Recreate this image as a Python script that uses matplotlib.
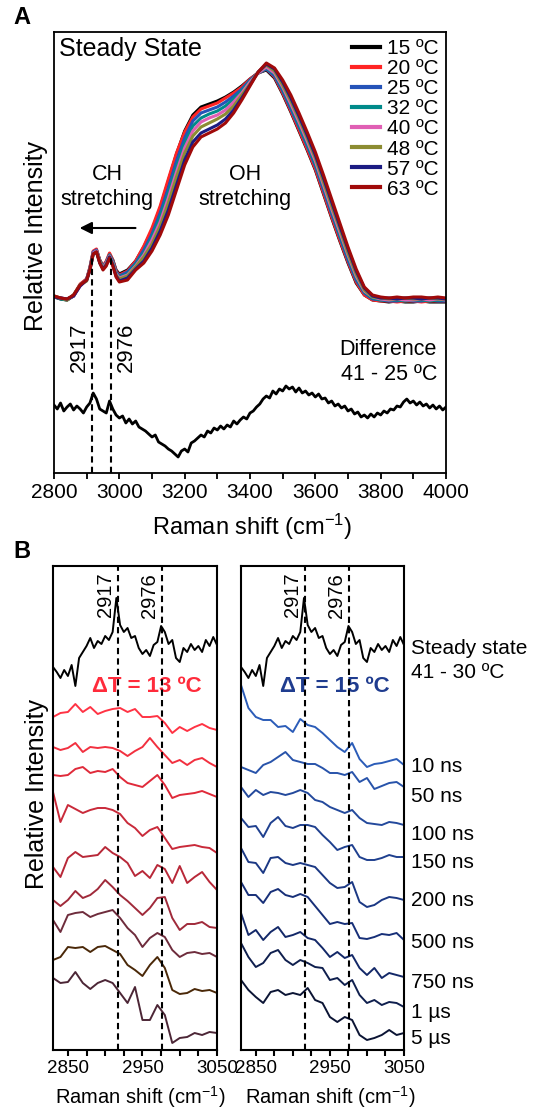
import numpy as np
import matplotlib
matplotlib.use("Agg")
import matplotlib.pyplot as plt
from matplotlib.transforms import blended_transform_factory

plt.rcParams['font.family'] = ['Liberation Sans', 'DejaVu Sans']
plt.rcParams['mathtext.fontset'] = 'custom'
plt.rcParams['mathtext.rm'] = 'Liberation Sans'
plt.rcParams['mathtext.default'] = 'regular'

# ---------------- panel A: steady state spectra ----------------
shift_a = np.concatenate([[2800, 2820, 2840, 2860, 2880, 2900, 2910, 2920, 2930, 2940,
                           2950, 2960, 2970, 2980, 2990, 3000],
                          np.arange(3025, 4001, 25)])

temps = ["15 ºC", "20 ºC", "25 ºC", "32 ºC", "40 ºC", "48 ºC", "57 ºC", "63 ºC"]
temp_colors = ["#000000", "#ff2424", "#2553b8", "#008a8a", "#e05fb4", "#8c8c32", "#1c1c82", "#a00a0a"]

int_15 = [176, 174, 173, 177, 188, 194, 205, 221, 223, 213, 207, 211, 219, 213, 203, 199,
          203, 212, 226, 243, 265, 292, 319, 342, 358, 366, 369, 372, 376, 381, 387, 394, 400, 403, 395, 379,
          361, 342, 323, 303, 279, 255, 232, 210, 190, 178, 173, 172, 171, 172, 171, 171, 172, 171, 171, 171]
int_20 = [177, 175, 173, 178, 189, 194, 206, 222, 224, 213, 207, 212, 220, 213, 202, 198,
          202, 212, 227, 245, 267, 294, 320, 341, 356, 364, 367, 370, 375, 380, 386, 394, 400, 404, 396, 380,
          362, 343, 324, 304, 280, 256, 233, 211, 191, 178, 173, 172, 172, 171, 172, 172, 171, 172, 172, 172]
int_25 = [176, 175, 174, 177, 188, 193, 205, 221, 223, 212, 206, 211, 218, 212, 201, 197,
          201, 210, 223, 239, 260, 285, 312, 335, 352, 360, 363, 366, 371, 377, 384, 393, 400, 404, 397, 382,
          364, 346, 327, 307, 283, 259, 236, 213, 193, 180, 174, 173, 172, 172, 173, 172, 172, 173, 172, 172]
int_32 = [177, 174, 173, 178, 188, 193, 204, 220, 222, 212, 206, 210, 218, 211, 200, 196,
          199, 209, 220, 236, 256, 280, 306, 330, 347, 355, 359, 362, 367, 374, 382, 392, 400, 405, 399, 384,
          367, 348, 329, 309, 286, 262, 238, 216, 195, 181, 175, 173, 173, 173, 172, 173, 173, 172, 173, 173]
int_40 = [176, 175, 174, 177, 187, 193, 204, 220, 222, 211, 205, 210, 217, 210, 199, 195,
          198, 207, 218, 233, 251, 275, 301, 325, 342, 351, 355, 358, 363, 371, 380, 391, 400, 406, 400, 386,
          369, 351, 332, 312, 288, 264, 241, 218, 197, 182, 176, 174, 173, 174, 173, 173, 174, 173, 174, 173]
int_48 = [177, 175, 173, 178, 188, 192, 204, 219, 221, 211, 204, 209, 216, 209, 198, 194,
          197, 206, 216, 229, 247, 270, 296, 320, 337, 346, 350, 354, 359, 367, 378, 389, 401, 408, 402, 388,
          372, 354, 335, 315, 291, 267, 244, 220, 199, 183, 176, 175, 174, 174, 175, 174, 174, 175, 174, 174]
int_57 = [176, 175, 174, 177, 187, 193, 203, 219, 221, 210, 204, 208, 216, 208, 197, 192,
          195, 204, 212, 225, 242, 263, 288, 313, 331, 340, 344, 348, 354, 363, 375, 388, 401, 409, 404, 391,
          375, 357, 338, 318, 295, 271, 247, 224, 202, 185, 177, 175, 175, 174, 175, 175, 174, 175, 175, 174]
int_63 = [177, 175, 174, 178, 188, 193, 203, 219, 221, 210, 203, 207, 215, 207, 196, 191,
          193, 203, 210, 222, 238, 258, 283, 308, 326, 336, 340, 344, 350, 360, 373, 387, 401, 410, 405, 393,
          378, 360, 341, 321, 298, 274, 250, 226, 204, 186, 178, 176, 175, 176, 175, 176, 176, 175, 176, 175]
spectra_a = [int_15, int_20, int_25, int_32, int_40, int_48, int_57, int_63]

# difference spectrum 41 - 25 ºC (offset below the spectra)
shift_diff = np.arange(2800, 4001, 10)
diff_41_25 = [68, 64, 70, 62, 66, 69, 63, 67, 64, 60, 66, 70, 80, 74, 64, 62, 60, 72, 64, 58,
              55, 57, 50, 54, 49, 52, 46, 44, 42, 39, 36, 38, 31, 29, 27, 24, 22, 19, 16, 22,
              24, 21, 30, 32, 35, 38, 36, 42, 40, 45, 43, 47, 44, 48, 46, 52, 49, 53, 56, 54,
              60, 62, 66, 69, 74, 77, 75, 82, 79, 84, 82, 87, 84, 86, 81, 85, 80, 82, 78, 80,
              76, 79, 74, 75, 70, 72, 67, 69, 65, 67, 62, 64, 59, 61, 56, 58, 55, 59, 56, 60,
              58, 62, 60, 64, 63, 67, 66, 71, 74, 70, 72, 68, 71, 67, 69, 65, 68, 64, 67, 63, 66]

ch_peaks = [2917, 2976]

# ---------------- panel B: time resolved difference spectra ----------------
shift_ss = np.arange(2830, 3051, 5)
steady_41_30 = [383, 378, 372, 380, 374, 385, 364, 392, 398, 404, 412, 402, 409, 406, 414, 410,
                418, 452, 425, 418, 422, 412, 414, 402, 396, 400, 394, 405, 408, 424, 418, 406,
                410, 392, 388, 402, 398, 406, 400, 404, 398, 410, 404, 413, 405]

shift_b = np.arange(2830, 3051, 10)
delays = ["10 ns", "50 ns", "100 ns", "150 ns", "200 ns", "500 ns", "750 ns", "1 µs", "5 µs"]

red_traces = [
    [333, 337, 338, 346, 338, 343, 336, 339, 341, 342, 338, 341, 333, 333, 334, 327, 317, 323, 319, 323, 326, 322, 320],
    [303, 300, 302, 307, 298, 303, 302, 303, 302, 299, 294, 299, 303, 312, 303, 295, 287, 290, 285, 290, 292, 287, 283],
    [275, 274, 275, 281, 283, 277, 279, 278, 281, 273, 267, 265, 263, 269, 275, 265, 252, 255, 256, 257, 259, 256, 253],
    [258, 228, 245, 241, 237, 240, 242, 242, 240, 236, 227, 222, 214, 220, 223, 212, 201, 203, 204, 205, 203, 202, 197],
    [183, 173, 192, 198, 193, 194, 195, 203, 197, 193, 187, 174, 179, 172, 185, 181, 167, 184, 167, 173, 178, 168, 160],
    [150, 144, 150, 159, 152, 155, 161, 170, 163, 155, 149, 142, 135, 142, 152, 153, 132, 120, 126, 126, 128, 123, 122],
    [130, 118, 135, 137, 138, 133, 136, 138, 140, 132, 122, 115, 103, 112, 117, 113, 100, 93, 97, 98, 96, 97, 93],
    [90, 93, 103, 102, 103, 98, 103, 104, 100, 96, 85, 80, 74, 85, 93, 82, 60, 56, 57, 61, 59, 60, 57],
    [72, 67, 68, 78, 67, 61, 67, 70, 67, 57, 47, 63, 30, 30, 45, 35, 7, 12, 13, 17, 15, 18, 17],
]
red_colors = ["#ff3344", "#f2303f", "#e02a3a", "#c92a3a", "#b82838", "#a02a3a", "#6e2c3c", "#4a2808", "#4c2636"]

blue_traces = [
    [365, 342, 333, 330, 330, 323, 324, 318, 331, 325, 323, 317, 310, 303, 298, 307, 291, 283, 286, 287, 289, 291, 285],
    [283, 280, 277, 285, 288, 293, 298, 290, 288, 286, 286, 282, 277, 277, 275, 278, 268, 272, 261, 264, 267, 268, 263],
    [263, 253, 260, 255, 258, 257, 255, 257, 260, 257, 250, 248, 243, 240, 237, 240, 232, 227, 226, 225, 228, 227, 225],
    [232, 223, 224, 213, 227, 233, 224, 222, 225, 225, 223, 215, 208, 200, 203, 205, 193, 190, 190, 192, 195, 193, 193],
    [202, 188, 187, 177, 192, 193, 187, 185, 187, 185, 183, 175, 167, 162, 163, 168, 148, 143, 145, 150, 153, 152, 150],
    [168, 155, 155, 147, 158, 161, 155, 153, 156, 153, 144, 135, 126, 128, 126, 127, 112, 111, 113, 116, 115, 117, 110],
    [137, 115, 120, 110, 118, 123, 113, 115, 118, 112, 110, 102, 93, 98, 92, 95, 82, 75, 82, 72, 77, 75, 73],
    [107, 93, 83, 87, 97, 100, 90, 85, 90, 87, 83, 82, 70, 72, 65, 70, 55, 47, 50, 45, 48, 47, 43],
    [70, 60, 53, 47, 58, 60, 55, 57, 55, 62, 50, 47, 33, 28, 33, 30, 15, 10, 12, 15, 20, 15, 17],
]
blue_colors = ["#2b5cb8", "#2853aa", "#23499c", "#1f408f", "#1b3884", "#172f78", "#132868", "#0f1f4e", "#0b1434"]

delay_label_y = [767, 797, 835, 863, 900, 943, 983, 1012, 1038]  # pixel rows of the labels

W, H = 548, 1110
fig = plt.figure(figsize=(W / 100, H / 100), dpi=100)


def px_axes(x0, y0, x1, y1):
    return fig.add_axes([x0 / W, 1 - y1 / H, (x1 - x0) / W, (y1 - y0) / H])


def style(ax, lw=1.3):
    for s in ax.spines.values():
        s.set_linewidth(lw)
    ax.set_yticks([])
    ax.tick_params(axis='x', which='both', direction='out', length=4, width=lw, pad=3)


# ---- A ----
axA = px_axes(54, 32, 446, 473)
for vals, lab, c in zip(spectra_a, temps, temp_colors):
    axA.plot(shift_a, vals, color=c, lw=2.2, label=lab)
axA.plot(shift_diff, diff_41_25, color='black', lw=2.0)
axA.vlines(ch_peaks, 0, 216, colors='black', linestyles=(0, (3, 2)), lw=1.5, zorder=4)
axA.set_xlim(2800, 4000)
axA.set_ylim(0, 441)
axA.set_xticks(np.arange(2800, 4001, 200))
axA.set_xticks(np.arange(2900, 4000, 200), minor=True)
axA.tick_params(axis='x', which='both', labelsize=15)
style(axA)

leg = axA.legend(loc='upper right', frameon=False, fontsize=15, handlelength=1.35,
                 handletextpad=0.35, labelspacing=0.05, borderaxespad=0.15, borderpad=0.2)
for h in leg.get_lines():
    h.set_linewidth(3)

axA.text(0.012, 0.988, "Steady State", transform=axA.transAxes, fontsize=18, ha='left', va='top')
axA.text(0.135, 0.648, "CH\nstretching", transform=axA.transAxes, fontsize=15.5,
         ha='center', va='center', linespacing=1.25)
axA.text(0.487, 0.648, "OH\nstretching", transform=axA.transAxes, fontsize=15.5,
         ha='center', va='center', linespacing=1.25)
axA.annotate("", xy=(2870, 245), xytext=(3058, 245),
             arrowprops=dict(arrowstyle='-|>', color='black', lw=1.5, mutation_scale=18))
axA.text(2877, 126, "2917", rotation=90, fontsize=16, ha='center', va='center')
axA.text(3023, 126, "2976", rotation=90, fontsize=16, ha='center', va='center')
axA.text(0.977, 0.252, "Difference\n41 - 25 ºC", transform=axA.transAxes, fontsize=15.5,
         ha='right', va='center', multialignment='right', linespacing=1.25)

fig.text(36 / W, 1 - 236 / H, "Relative Intensity", rotation=90, fontsize=18, ha='center', va='center')
fig.text(252 / W, 1 - 527 / H, "Raman shift (cm$^{-1}$)", fontsize=17, ha='center', va='center')
fig.text(22 / W, 1 - 18 / H, "A", fontsize=17, fontweight='bold', ha='center', va='center')
fig.text(22 / W, 1 - 551 / H, "B", fontsize=17, fontweight='bold', ha='center', va='center')

# ---- B ----
axBL = px_axes(53, 566, 217, 1050)
axBR = px_axes(241, 566, 404, 1050)
for ax, traces, cols, dt, dcol, xlab in [
        (axBL, red_traces, red_colors, "ΔT = 13 ºC", "#ff2b3b", 140),
        (axBR, blue_traces, blue_colors, "ΔT = 15 ºC", "#1f3c8f", 330)]:
    ax.plot(shift_ss, steady_41_30, color='black', lw=1.4)
    for vals, c in zip(traces, cols):
        ax.plot(shift_b, vals, color=c, lw=1.4)
    ax.set_xlim(2830, 3050)
    ax.set_ylim(0, 484)
    ax.set_xticks([2850, 2950, 3050])
    ax.set_xticks(np.arange(2875, 3050, 25), minor=True)
    ax.tick_params(axis='x', which='both', labelsize=13.5)
    style(ax, lw=1.5)
    for p in ch_peaks:
        ax.axvline(p, color='black', ls=(0, (3, 2)), lw=1.5, zorder=4)
    tr = blended_transform_factory(ax.transData, ax.transAxes)
    for p in ch_peaks:
        ax.text(p - 4, 0.986, str(p), transform=tr, rotation=90, fontsize=14.5, ha='right', va='top')
    ax.text(0.575, 0.75, dt, transform=ax.transAxes, color=dcol, fontsize=16, fontweight='bold',
            ha='center', va='center')
    fig.text(xlab / W, 1 - 1097 / H, "Raman shift (cm$^{-1}$)", fontsize=14.5, ha='center', va='center')

fig.text(411 / W, 1 - 648 / H, "Steady state", fontsize=15, ha='left', va='center')
fig.text(411 / W, 1 - 672 / H, "41 - 30 ºC", fontsize=15, ha='left', va='center')
for lab, y in zip(delays, delay_label_y):
    fig.text(411 / W, 1 - y / H, lab, fontsize=15, ha='left', va='center')
fig.text(37 / W, 1 - 794 / H, "Relative Intensity", rotation=90, fontsize=18, ha='center', va='center')

fig.savefig("out.png", dpi=100)
